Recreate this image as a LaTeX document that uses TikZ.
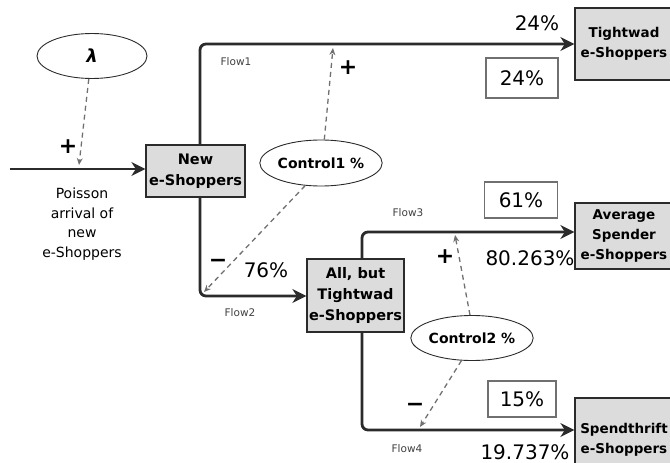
\documentclass[tikz,border=0pt]{standalone}
\usepackage{fontspec}
\setmainfont{DejaVu Sans}
\usetikzlibrary{arrows.meta,shapes.geometric,calc}
\definecolor{boxfill}{HTML}{DCDCDC}
\definecolor{lineclr}{HTML}{2B2B2B}
\definecolor{depclr}{HTML}{707070}
\tikzset{
  stockbox/.style={draw=lineclr, line width=1.3pt, fill=boxfill, align=center,
    font=\fontsize{14.5}{21}\selectfont\bfseries, inner sep=0pt},
  edgebox/.style={stockbox, minimum width=98pt, font=\fontsize{13.5}{20}\selectfont\bfseries},
  ell/.style={ellipse, draw=lineclr, line width=0.9pt, fill=white, inner sep=0pt,
    font=\fontsize{14}{16}\selectfont\bfseries},
  flow/.style={draw=lineclr, line width=2.8pt, rounded corners=6pt,
    -{Stealth[length=14pt,width=14pt]}},
  dep/.style={draw=depclr, line width=1.3pt, dash pattern=on 5pt off 4pt,
    -{Stealth[length=7pt,width=6pt,open]}},
  pct/.style={font=\fontsize{20}{24}\selectfont, inner sep=0pt},
  pctbox/.style={draw=depclr, line width=1.1pt, font=\fontsize{20}{24}\selectfont, inner sep=0pt},
  flowlbl/.style={font=\fontsize{10.5}{12}\selectfont, text=black!75, inner sep=0pt},
  sign/.style={font=\fontsize{22}{24}\selectfont\bfseries, inner sep=0pt},
}
\begin{document}
\begin{tikzpicture}[x=1pt,y=-1pt]
\useasboundingbox (0,0) rectangle (670,463);
\clip (0,0) rectangle (670,463);
% stocks
\node[stockbox, minimum width=99pt, minimum height=52pt] (new) at (195.5,171) {New\\e-Shoppers};
\node[edgebox, minimum height=72pt] (tight) at (624,44) {Tightwad\\e-Shoppers};
\node[edgebox, minimum height=66pt] (avg) at (624,236) {Average\\Spender\\e-Shoppers};
\node[edgebox, minimum height=84pt] (spend) at (624,440) {Spendthrift\\e-Shoppers};
\node[stockbox, minimum width=97pt, minimum height=73pt] (all) at (355.5,295.5) {All, but\\Tightwad\\e-Shoppers};
% auxiliaries
\node[ell, minimum width=110pt, minimum height=45pt] (lam) at (92,56) {\fontsize{18}{20}\selectfont\bfseries\itshape λ};
\node[ell, minimum width=117pt, minimum height=46pt] (c1) at (321,163) {Control1 \%};
\node[ell, minimum width=108pt, minimum height=45pt] (c2) at (472,338) {Control2 \%};
% source
\coordinate (src) at (10,169);
\draw[flow] (src) -- (src -| new.west);
\node[font=\fontsize{14}{19.5}\selectfont, align=center, inner sep=0pt] (poisson) at (82,224) {Poisson\\arrival of\\new\\e-Shoppers};
% flows
\draw[flow] ([xshift=4.5pt]new.north) |- (tight.west);
\draw[flow] ([xshift=4.5pt]new.south) |- ([yshift=-0.5pt]all.west);
\draw[flow] ([xshift=6.5pt]all.north) |- ([yshift=4pt]avg.west);
\draw[flow] ([xshift=6.5pt]all.south) |- ([yshift=10pt]spend.west);
% flow labels
\node[flowlbl] (f1) at (236,62) {Flow1};
\node[flowlbl] (f2) at (240,313) {Flow2};
\node[flowlbl] (f3) at (408,213) {Flow3};
\node[flowlbl] (f4) at (407,449) {Flow4};
% dependency targets
\coordinate (lamhit) at (79,165);
\coordinate (f1hit) at (333,48);
\coordinate (f2hit) at (204,292);
\coordinate (f3hit) at (455,235);
\coordinate (f4hit) at (420,427);
\draw[dep] (lam.262) -- (lamhit);
\draw[dep] (c1.82) -- (f1hit);
\draw[dep] (c1.235) -- (f2hit);
\draw[dep] (c2.95) -- (f3hit);
\draw[dep] (c2.245) -- (f4hit);
% signs
\node[sign] (s1) at (68,147) {+};
\node[sign] (s2) at (348,68) {+};
\node[sign] (s3) at (218,263) {\textminus};
\node[sign] (s4) at (445,257) {+};
\node[sign] (s5) at (415,407) {\textminus};
% percentages
\node[pct] (p1) at (537,23) {24\%};
\node[pct] (p2) at (266,270) {76\%};
\node[pct] (p3) at (530,258) {80.263\%};
\node[pct] (p4) at (525,452) {19.737\%};
\node[pctbox, minimum width=72pt, minimum height=40pt] (b1) at (522,78) {24\%};
\node[pctbox, minimum width=73pt, minimum height=36pt] (b2) at (521,200) {61\%};
\node[pctbox, minimum width=68pt, minimum height=36pt] (b3) at (522,399) {15\%};
\end{tikzpicture}
\end{document}
